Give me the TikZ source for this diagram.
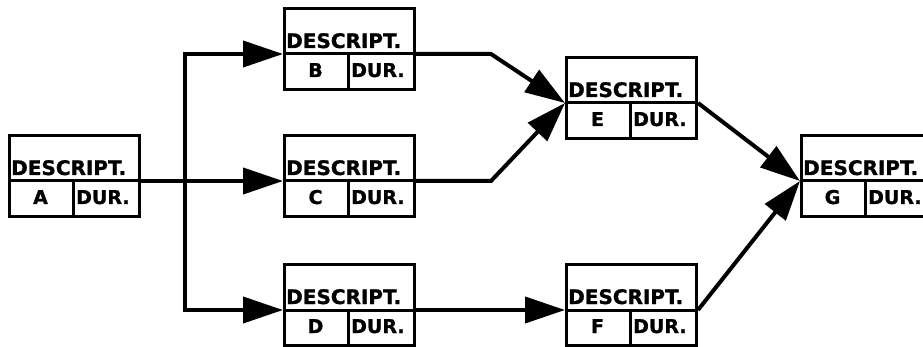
\documentclass[tikz,border=0pt]{standalone}
\usepackage{fontspec}
\setmainfont{DejaVu Sans}
\newfontfamily\heavyfont{DejaVu Sans Bold}[FakeBold=1.2]
\usetikzlibrary{calc,arrows.meta}
\tikzset{
  taskbox/.style={draw=black, line width=3pt, minimum width=130pt, minimum height=81pt, inner sep=0pt, anchor=north west},
  boxline/.style={line width=3pt},
  desctext/.style={inner sep=0pt, font=\heavyfont\fontsize{20}{22}\selectfont},
  celltext/.style={inner sep=0pt, font=\heavyfont\fontsize{19}{21}\selectfont},
  conn/.style={line width=4pt, -{Triangle[length=40pt,width=26pt]}}
}
\newcommand{\taskbox}[4]{%
  \node[taskbox] (#1) at (#2,#3) {};
  \coordinate (#1-in) at ($(#1.north west)+(0,47)$);
  \coordinate (#1-out) at ($(#1.north east)+(0,47)$);
  \draw[boxline] (#1-in) -- (#1-out);
  \draw[boxline] ($(#1.north west)+(65,47)$) -- ($(#1.south west)+(65,0)$);
  \node[desctext, anchor=base west] (#1-d) at ($(#1.north west)+(3,41)$) {DESCRIPT.};
  \node[celltext, anchor=base] (#1-l) at ($(#1.north west)+(32.5,70)$) {#4};
  \node[celltext, anchor=base west] (#1-u) at ($(#1.north west)+(68,70)$) {DUR.};
}
\begin{document}
\begin{tikzpicture}[x=1pt,y=-1pt]
\useasboundingbox (0,0) rectangle (923,347);
\taskbox{A}{8}{134}{A}
\taskbox{B}{283}{7}{B}
\taskbox{C}{283}{134}{C}
\taskbox{D}{283}{263}{D}
\taskbox{E}{565}{56}{E}
\taskbox{F}{565}{263}{F}
\taskbox{G}{800}{134}{G}
\coordinate (J) at (185,181);
\draw[conn] (A-out) -- (C-in);
\draw[conn] (J) |- (B-in);
\draw[conn] (J) |- (D-in);
\draw[conn] (B-out) -- ++(75,0) -- (E-in);
\draw[conn] (C-out) -- ++(75,0) -- (E-in);
\draw[conn] (E-out) -- (G-in);
\draw[conn] (F-out) -- (G-in);
\draw[conn] (D-out) -- (F-in);
\end{tikzpicture}
\end{document}
